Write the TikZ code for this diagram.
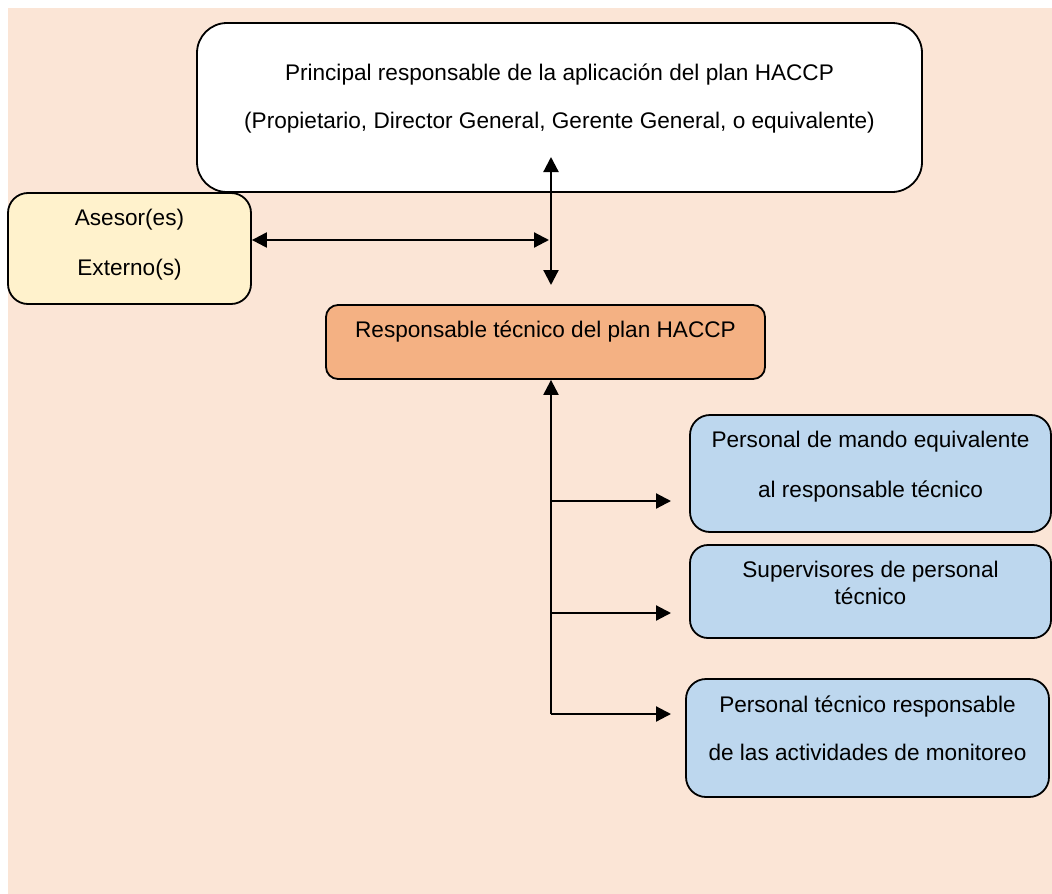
\documentclass[tikz,border=0pt]{standalone}
\usepackage{fontspec}
\setmainfont{Liberation Sans}
\usetikzlibrary{arrows.meta}
\definecolor{bgpeach}{HTML}{FBE5D6}
\definecolor{yel}{HTML}{FFF2CC}
\definecolor{org}{HTML}{F4B183}
\definecolor{blu}{HTML}{BDD7EE}
\tikzset{
  box/.style={draw=black, line width=1.8pt, rounded corners=#1, inner sep=0pt, align=center,
    font=\fontsize{22.6}{27}\selectfont},
  box/.default=18pt,
  conn/.style={line width=2.2pt, -{Triangle[length=15pt,width=15pt]}},
  dconn/.style={line width=2.2pt, {Triangle[length=15pt,width=15pt]}-{Triangle[length=15pt,width=15pt]}},
  plain/.style={line width=2.2pt},
  lbl/.style={font=\fontsize{22.6}{27}\selectfont, inner sep=0pt, align=center}
}
\begin{document}
\begin{tikzpicture}[x=1pt,y=-1pt]
\useasboundingbox (0,0) rectangle (1052,894);
\fill[white] (0,0) rectangle (1052,894);
\fill[bgpeach] (8,8) rectangle (1052,894);

% boxes
\node[box=30pt, fill=white, minimum width=725pt, minimum height=169pt] (top) at (559.5,107.5) {};
\node[lbl] (toptext) at (559.5,99) {Principal responsable de la aplicación del plan HACCP\\[21pt](Propietario, Director General, Gerente General, o equivalente)};

\node[box=20pt, fill=yel, minimum width=243pt, minimum height=111pt] (ases) at (129.5,248.5) {};
\node[lbl] (asestext) at (129.5,245) {Asesor(es)\\[23pt]Externo(s)};

\node[box=12pt, fill=org, minimum width=439pt, minimum height=74pt] (resp) at (545.5,342) {};
\node[lbl] (resptext) at (545.5,332) {Responsable técnico del plan HACCP};

\node[box=20pt, fill=blu, minimum width=361pt, minimum height=117pt] (b1) at (870.5,473.5) {};
\node[lbl] (b1text) at (870.5,467) {Personal de mando equivalente\\[23pt]al responsable técnico};

\node[box=18pt, fill=blu, minimum width=361pt, minimum height=93pt] (b2) at (870.5,591.5) {};
\node[lbl] (b2text) at (870.5,583) {Supervisores de personal\\técnico};

\node[box=20pt, fill=blu, minimum width=363pt, minimum height=118pt] (b3) at (867.5,738) {};
\node[lbl] (b3text) at (867.5,728) {Personal técnico responsable\\[21pt]de las actividades de monitoreo};

% connectors
\coordinate (vt) at (551,157);
\coordinate (vb) at (551,285);
\coordinate (hr) at (549,240);
\coordinate (trunkend) at (551,714);
\coordinate (j1) at (551,501);
\coordinate (j2) at (551,613);
\coordinate (t1) at (671,501);
\coordinate (t2) at (671,613);
\coordinate (t3) at (671,714);

\draw[dconn] (vt) -- (vb);
\draw[dconn] (ases.east |- hr) -- (hr);
\draw[conn] (trunkend) -- (resp.south -| trunkend);
\draw[conn] (j1) -- (t1);
\draw[conn] (j2) -- (t2);
\draw[conn] (trunkend) -- (t3);
\end{tikzpicture}
\end{document}
